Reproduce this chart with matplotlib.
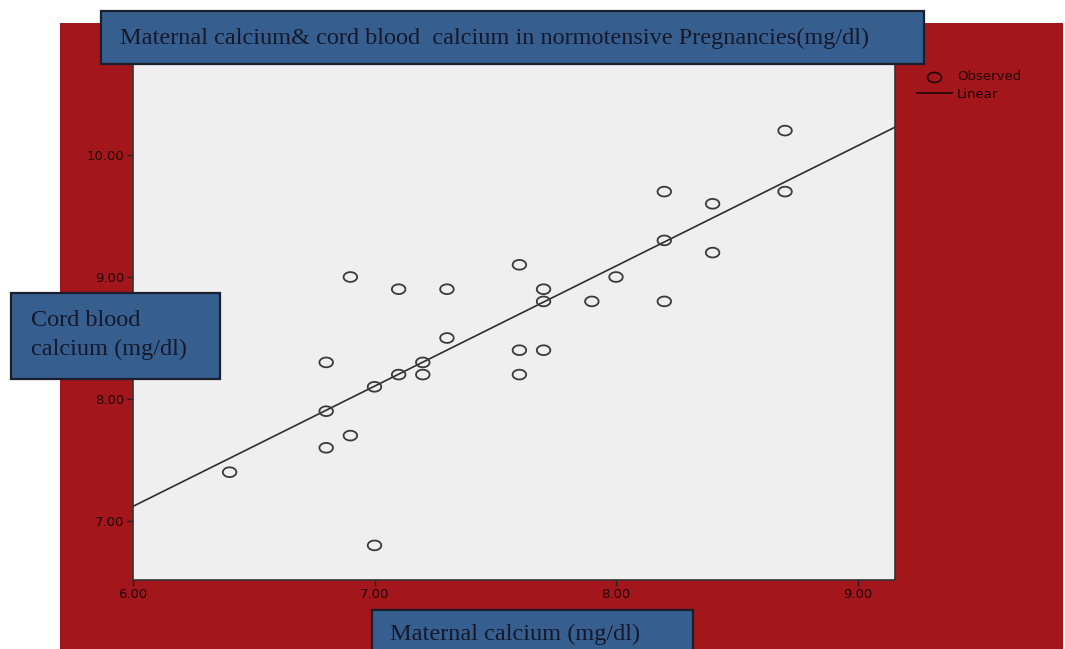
import matplotlib
matplotlib.use("Agg")
import numpy as np
import matplotlib.pyplot as plt
from matplotlib.patches import Rectangle
from matplotlib.lines import Line2D
from matplotlib.path import Path

# maternal calcium vs cord blood calcium (mg/dl), normotensive group
maternal = [6.4, 6.8, 6.8, 6.8, 6.9, 6.9, 7.0, 7.0, 7.1, 7.1,
            7.2, 7.2, 7.3, 7.3, 7.6, 7.6, 7.6, 7.7, 7.7, 7.7,
            7.9, 8.0, 8.2, 8.2, 8.2, 8.4, 8.4, 8.7, 8.7]
cord = [7.4, 8.3, 7.9, 7.6, 9.0, 7.7, 8.1, 6.8, 8.9, 8.2,
        8.3, 8.2, 8.9, 8.5, 9.1, 8.4, 8.2, 8.9, 8.8, 8.4,
        8.8, 9.0, 9.7, 9.3, 8.8, 9.6, 9.2, 10.2, 9.7]

# linear fit
fit_intercept = 1.21
fit_slope = 0.985

xticks = [6.0, 7.0, 8.0, 9.0]
yticks = [7.0, 8.0, 9.0, 10.0]

title = "Maternal calcium& cord blood  calcium in normotensive Pregnancies(mg/dl)"
xlabel = "Maternal calcium (mg/dl)"
ylabel = "Cord blood\ncalcium (mg/dl)"

W, H = 1065, 649
red = "#a3161b"
blue = "#365f90"
edge = "#1a1f2b"
ink = "#14182a"
tick_ink = "#1e0606"
serif = "Liberation Serif"

# slightly flattened open circle marker
t = np.linspace(0, 2 * np.pi, 60)
oval = Path(np.column_stack([np.cos(t), 0.72 * np.sin(t)]), closed=True)

fig = plt.figure(figsize=(W / 100, H / 100), dpi=100)
fig.patch.set_facecolor("white")

def fx(px):
    return px / W

def fy(py):
    return 1 - py / H

# red background panel
fig.add_artist(Rectangle((fx(60), 0), fx(1063) - fx(60), fy(23),
                         transform=fig.transFigure, facecolor=red,
                         edgecolor="none", zorder=-10))

ax = fig.add_axes([fx(133), fy(580), fx(895) - fx(133), fy(55) - fy(580)])
ax.set_facecolor("#efefef")
xmin, xmax = 6.0, 6.0 + (895 - 133) / 241.5
ymin = 7.0 - (580 - 521) / 122
ymax = 10.0 + (155 - 55) / 122
ax.set_xlim(xmin, xmax)
ax.set_ylim(ymin, ymax)

ax.scatter(maternal, cord, s=95, marker=oval, facecolors="none",
           edgecolors="#3a3a3a", linewidths=1.3, zorder=3)
ax.plot([xmin, xmax], [fit_intercept + fit_slope * xmin,
                       fit_intercept + fit_slope * xmax],
        color="#2e2e2e", lw=1.2, zorder=2)

ax.set_xticks(xticks)
ax.set_yticks(yticks)
ax.set_xticklabels([f"{v:.2f}" for v in xticks])
ax.set_yticklabels([f"{v:.2f}" for v in yticks])
ax.tick_params(length=4, width=1, color="#222222", labelsize=9.5,
               labelcolor=tick_ink, pad=2)
for lab in ax.get_xticklabels() + ax.get_yticklabels():
    lab.set_family("DejaVu Sans")
for s in ax.spines.values():
    s.set_color("#333333")
    s.set_linewidth(1.2)

# blue label boxes
def box(x0, y0, x1, y1):
    fig.add_artist(Rectangle((fx(x0), fy(y1)), fx(x1) - fx(x0), fy(y0) - fy(y1),
                             transform=fig.transFigure, facecolor=blue,
                             edgecolor=edge, lw=1.6, zorder=5))

box(101, 11, 924, 64)
fig.text(fx(120), fy(38), title, family=serif, fontsize=17.5, color=ink,
         va="center", ha="left", zorder=6)

box(11, 293, 220, 379)
fig.text(fx(31), fy(335), ylabel, family=serif, fontsize=17.5, color=ink,
         va="center", ha="left", linespacing=1.5, zorder=6)

box(372, 610, 693, 660)
fig.text(fx(390), fy(634), xlabel, family=serif, fontsize=17.5, color=ink,
         va="center", ha="left", zorder=6)

# legend
fig.add_artist(Line2D([fx(934)], [fy(77)], marker=oval, ms=10, mfc="none",
                      mec=tick_ink, mew=1.2, transform=fig.transFigure, zorder=6))
fig.add_artist(Line2D([fx(917), fx(952)], [fy(93), fy(93)], color=tick_ink,
                      lw=1.2, transform=fig.transFigure, zorder=6))
fig.text(fx(957), fy(77), "Observed", family="DejaVu Sans", fontsize=9.5,
         color=tick_ink, va="center", ha="left")
fig.text(fx(957), fy(94), "Linear", family="DejaVu Sans", fontsize=9.5,
         color=tick_ink, va="center", ha="left")

fig.savefig("out.png", dpi=100)
